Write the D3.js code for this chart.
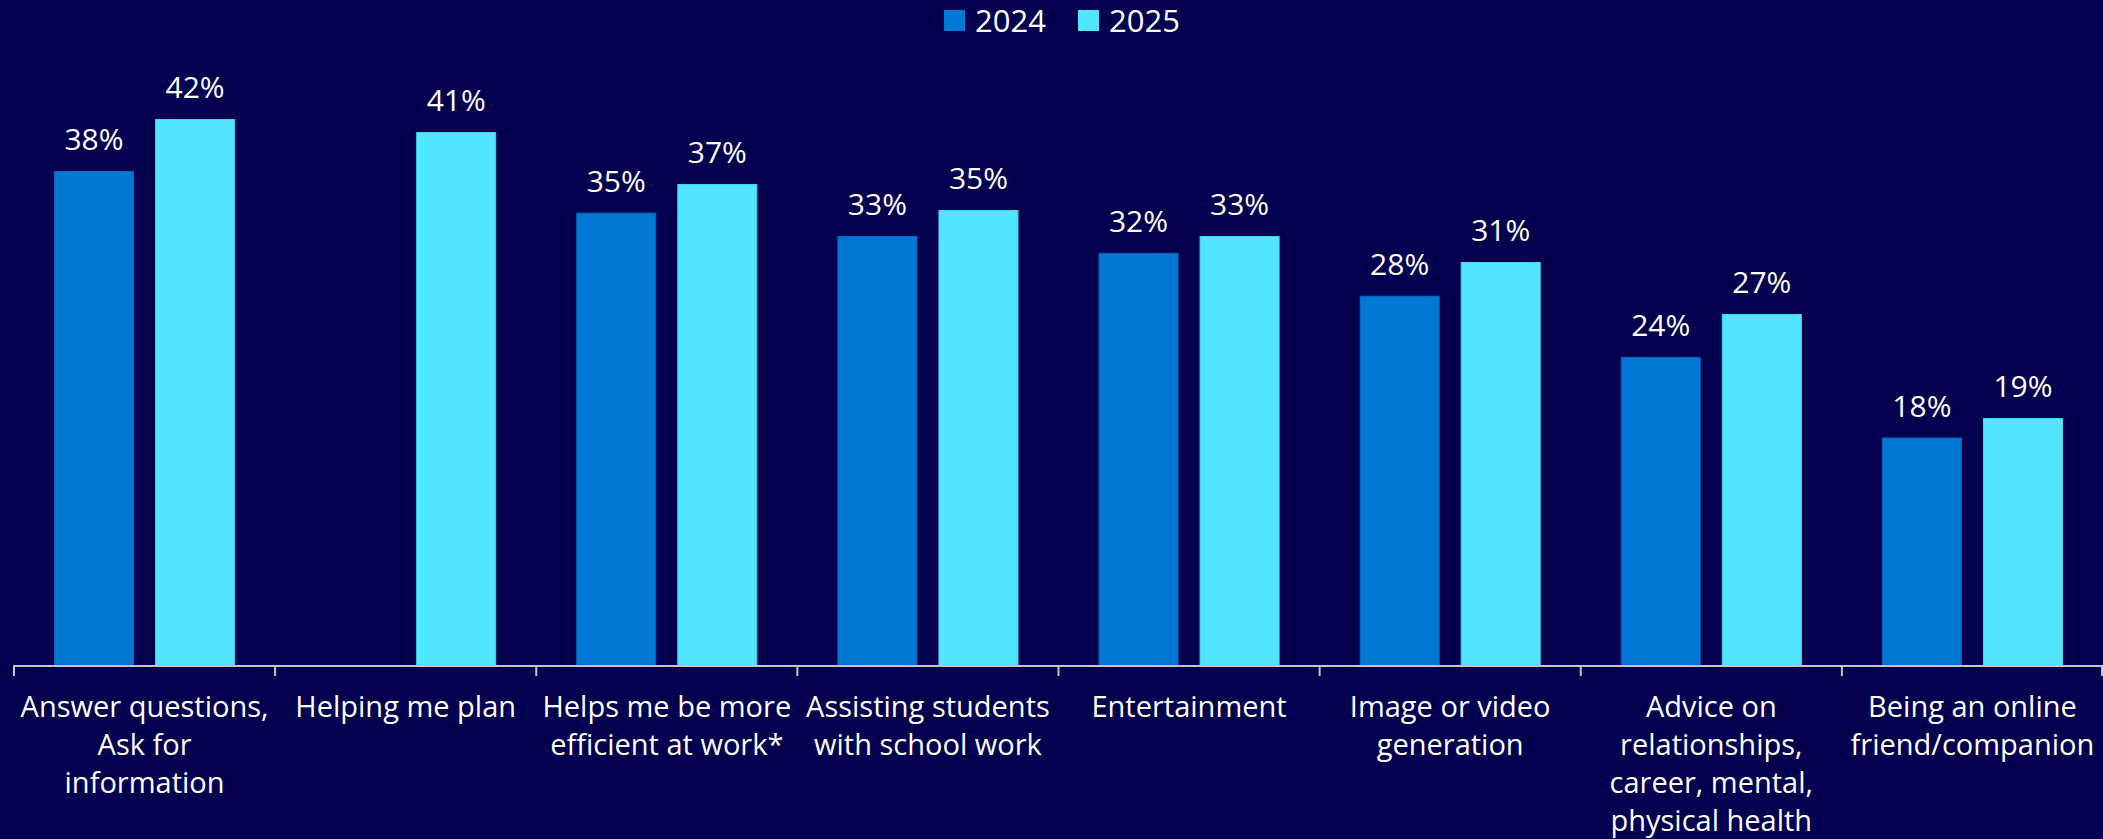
<!DOCTYPE html>
<html>
<head>
<meta charset="utf-8">
<script src="https://cdn.jsdelivr.net/npm/d3@7"></script>
<style>
  html, body { margin: 0; padding: 0; background: #02004f; }
  svg { display: block; font-family: "Open Sans", sans-serif; }
</style>
</head>
<body>
<svg></svg>
<script>
const width = 2103, height = 839;

// Chart data
const categories = [
  "Answer questions,\nAsk for\ninformation",
  "Helping me plan",
  "Helps me be more\nefficient at work*",
  "Assisting students\nwith school work",
  "Entertainment",
  "Image or video\ngeneration",
  "Advice on\nrelationships,\ncareer, mental,\nphysical health",
  "Being an online\nfriend/companion"
];
const seriesNames = ["2024", "2025"];
const values2024 = [38, null, 34.8, 33, 31.7, 28.4, 23.7, 17.5];
const values2025 = [42, 41, 37, 35, 33, 31, 27, 19];

const colors = { "2024": "#0078d4", "2025": "#50e6ff" };
const edges = { "2024": "#0068bd", "2025": "#45d6ee" };

const svg = d3.select("svg").attr("width", width).attr("height", height);

svg.append("rect").attr("width", width).attr("height", height).attr("fill", "#02004f");

const baseY = 665;

const x0 = d3.scaleBand()
    .domain(categories)
    .range([14, 2103])
    .paddingInner(0)
    .paddingOuter(0);

const x1 = d3.scaleBand()
    .domain(seriesNames)
    .range([0, x0.bandwidth()])
    .paddingInner(0.208)
    .paddingOuter(0.396);

const y = d3.scaleLinear().domain([0, 45]).range([baseY, baseY - 45 * 13]);

// flatten into bar records
const bars = [];
categories.forEach((c, i) => {
    bars.push({ cat: c, series: "2024", value: values2024[i] });
    bars.push({ cat: c, series: "2025", value: values2025[i] });
});
const shown = bars.filter(d => d.value != null);

svg.append("g").selectAll("rect")
    .data(shown)
    .enter().append("rect")
    .attr("x", d => x0(d.cat) + x1(d.series) + 0.5)
    .attr("y", d => y(d.value) + 0.5)
    .attr("width", x1.bandwidth() - 1)
    .attr("height", d => y(0) - y(d.value) - 0.5)
    .attr("fill", d => colors[d.series])
    .attr("stroke", d => edges[d.series])
    .attr("stroke-width", 1);

// value labels
svg.append("g").selectAll("text")
    .data(shown)
    .enter().append("text")
    .attr("x", d => x0(d.cat) + x1(d.series) + x1.bandwidth() / 2)
    .attr("y", d => y(d.value) - 21)
    .attr("text-anchor", "middle")
    .attr("fill", "#ffffff")
    .attr("font-size", "30px")
    .text(d => Math.round(d.value) + "%");

// x axis: baseline plus ticks at band edges
const axis = svg.append("g");
axis.append("line")
    .attr("x1", x0.range()[0]).attr("x2", width)
    .attr("y1", baseY + 1).attr("y2", baseY + 1)
    .attr("stroke", "#c4c4cc").attr("stroke-width", 2);

const tickXs = categories.map(c => x0(c)).concat([x0.range()[1] - 1]);
axis.selectAll("line.tick")
    .data(tickXs)
    .enter().append("line")
    .attr("class", "tick")
    .attr("x1", d => d).attr("x2", d => d)
    .attr("y1", baseY).attr("y2", baseY + 11)
    .attr("stroke", "#c4c4cc").attr("stroke-width", 2);

// category labels
const catLabels = svg.append("g").selectAll("text")
    .data(categories)
    .enter().append("text")
    .attr("x", d => x0(d) + x0.bandwidth() / 2)
    .attr("y", 717)
    .attr("text-anchor", "middle")
    .attr("fill", "#ffffff")
    .attr("font-size", "29px");

catLabels.each(function(d) {
    const lines = d.split("\n");
    d3.select(this).selectAll("tspan")
        .data(lines)
        .enter().append("tspan")
        .attr("x", x0(d) + x0.bandwidth() / 2)
        .attr("dy", (l, i) => i === 0 ? 0 : 38)
        .text(l => l);
});

// legend
const legendPos = { "2024": 944, "2025": 1078 };
const legend = svg.append("g").selectAll("g")
    .data(seriesNames)
    .enter().append("g")
    .attr("transform", d => `translate(${legendPos[d]},10)`);

legend.append("rect")
    .attr("width", 21).attr("height", 21)
    .attr("fill", d => colors[d]);

legend.append("text")
    .attr("x", 31).attr("y", 22)
    .attr("fill", "#ffffff")
    .attr("font-size", "31px")
    .text(d => d);
</script>
</body>
</html>
